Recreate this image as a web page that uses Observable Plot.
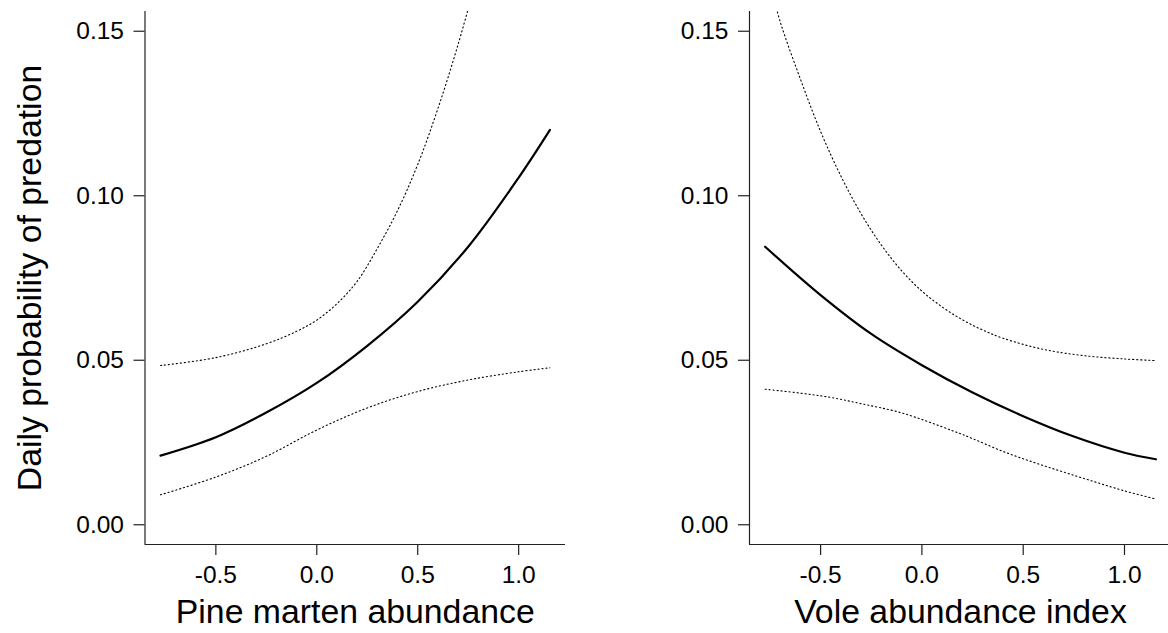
<!DOCTYPE html>
<html>
<head>
<meta charset="utf-8">
<script src="https://cdn.jsdelivr.net/npm/d3@7"></script>
<script src="https://cdn.jsdelivr.net/npm/@observablehq/plot@0.6"></script>
<style>
  html, body { margin: 0; padding: 0; background: #fff; }
  #chart { position: relative; width: 1168px; height: 633px; overflow: hidden; background: #fff; }
  #chart svg { position: absolute; top: 0; }
</style>
</head>
<body>
<div id="chart"></div>
<script>
// Shared axis settings
const xTicks = [-0.5, 0, 0.5, 1.0];
const yTicks = [0, 0.05, 0.10, 0.15];
const xDomain = [-0.851, 1.232];
const yDomain = [-0.006, 0.156];

const yTitle = "Daily probability of predation";
const martenTitle = "Pine marten abundance";
const voleTitle = "Vole abundance index";

// Pine marten panel: fitted probability and confidence limits
const martenX   = [-0.774, -0.5, -0.25, 0, 0.25, 0.5, 0.75, 1.0, 1.155];
const martenFit = [0.0210, 0.0266, 0.0341, 0.0431, 0.0544, 0.0678, 0.0845, 0.1055, 0.1200];

const martenUpperX = [-0.774, -0.5, -0.25, -0.1, 0, 0.1, 0.2, 0.3, 0.4, 0.5, 0.6, 0.7, 0.8];
const martenUpper  = [0.0484, 0.0508, 0.0550, 0.0588, 0.0622, 0.0672, 0.0740, 0.0840, 0.0955, 0.1095, 0.1265, 0.1460, 0.1680];

const martenLowerX = [-0.774, -0.5, -0.25, 0, 0.25, 0.5, 0.75, 1.0, 1.155];
const martenLower  = [0.0091, 0.0145, 0.0208, 0.0288, 0.0355, 0.0405, 0.0440, 0.0465, 0.0477];

// Vole panel: fitted probability and confidence limits
const voleX   = [-0.774, -0.5, -0.25, 0, 0.25, 0.5, 0.75, 1.0, 1.155];
const voleFit = [0.0845, 0.0698, 0.0580, 0.0485, 0.0402, 0.0330, 0.0268, 0.0219, 0.0199];

const voleUpperX = [-0.774, -0.7, -0.6, -0.5, -0.4, -0.3, -0.2, -0.1, 0, 0.1, 0.2, 0.3, 0.4, 0.6, 0.8, 1.0, 1.155];
const voleUpper  = [0.1700, 0.1530, 0.1355, 0.1195, 0.1060, 0.0945, 0.0850, 0.0772, 0.0710, 0.0662, 0.0623, 0.0592, 0.0567, 0.0533, 0.0514, 0.0504, 0.0499];

const voleLowerX = [-0.774, -0.6, -0.45, -0.3, -0.1, 0.15, 0.25, 0.4, 0.55, 0.7, 0.85, 1.0, 1.155];
const voleLower  = [0.0412, 0.0400, 0.0387, 0.0368, 0.0340, 0.0286, 0.0262, 0.0223, 0.0190, 0.0160, 0.0131, 0.0103, 0.0078];

const font = "'Liberation Sans', Arial, Helvetica, sans-serif";
const axisColor = "#222";

function panel({fitX, fit, upX, up, loX, lo, xLabel, yLabel, width, marginLeft, marginRight}) {
  const dotted = {curve: "catmull-rom", stroke: "#000", strokeWidth: 1.1, strokeDasharray: "1.2,2.8", clip: true};
  const marks = [
    Plot.axisY({ticks: yTicks, tickFormat: d => d.toFixed(2), tickSize: 11, tickPadding: 10,
                fontSize: 24.5, label: null, stroke: axisColor, strokeWidth: 1.2}),
    Plot.axisX({ticks: xTicks, tickFormat: d => d.toFixed(1), tickSize: 11, tickPadding: 10,
                fontSize: 24.5, label: null, stroke: axisColor, strokeWidth: 1.2}),
    Plot.ruleX([xDomain[0]], {stroke: axisColor, strokeWidth: 1.2}),
    Plot.ruleY([yDomain[0]], {stroke: axisColor, strokeWidth: 1.2}),
    Plot.line(up, {x: upX, y: up, ...dotted}),
    Plot.line(lo, {x: loX, y: lo, ...dotted}),
    Plot.line(fit, {x: fitX, y: fit, curve: "catmull-rom", stroke: "#000", strokeWidth: 2.2, clip: true}),
    Plot.text([xLabel], {text: d => d, frameAnchor: "bottom", dy: 78, lineAnchor: "bottom",
                         textAnchor: "middle", fontSize: 33.8, fill: "#000"})
  ];
  if (yLabel) {
    marks.push(Plot.text([yLabel], {text: d => d, frameAnchor: "left", rotate: -90, dx: -104.5,
                                    textAnchor: "middle", lineAnchor: "bottom", fontSize: 33.8, fill: "#000"}));
  }
  return Plot.plot({
    width, height: 633,
    marginTop: 11, marginBottom: 89, marginLeft, marginRight,
    style: {fontFamily: font, background: "transparent", color: "#000", overflow: "visible"},
    x: {domain: xDomain},
    y: {domain: yDomain},
    marks
  });
}

const chart = document.getElementById("chart");

const left = panel({
  fitX: martenX, fit: martenFit, upX: martenUpperX, up: martenUpper, loX: martenLowerX, lo: martenLower,
  xLabel: martenTitle, yLabel: yTitle, width: 584, marginLeft: 144.5, marginRight: 19
});
left.style.left = "0px";
chart.appendChild(left);

const right = panel({
  fitX: voleX, fit: voleFit, upX: voleUpperX, up: voleUpper, loX: voleLowerX, lo: voleLower,
  xLabel: voleTitle, yLabel: null, width: 587, marginLeft: 165, marginRight: 0
});
right.style.left = "584px";
chart.appendChild(right);
</script>
</body>
</html>
